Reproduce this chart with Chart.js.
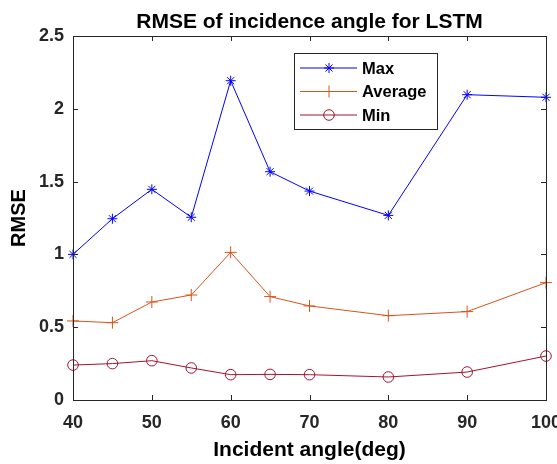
<!DOCTYPE html>
<html lang="en">
<head>
<meta charset="UTF-8">
<title>RMSE of incidence angle for LSTM</title>
<script src="https://cdn.jsdelivr.net/npm/chart.js"></script>
<style>
    html, body { margin: 0; padding: 0; background: #fff; }
    #wrap { width: 557px; height: 464px; }
</style>
</head>
<body>
<div id="wrap"><canvas id="rmseChart"></canvas></div>
<script>
// data
const angles = [40, 45, 50, 55, 60, 65, 70, 80, 90, 100];
const maxRmse = [1.00, 1.245, 1.447, 1.255, 2.193, 1.568, 1.435, 1.268, 2.097, 2.079];
const avgRmse = [0.543, 0.531, 0.673, 0.721, 1.014, 0.710, 0.646, 0.579, 0.607, 0.806];
const minRmse = [0.240, 0.250, 0.270, 0.220, 0.174, 0.176, 0.174, 0.158, 0.192, 0.302];
const xTicks = { min: 40, max: 100, step: 10 };
const yTicks = { min: 0, max: 2.5, step: 0.5 };
const chartTitle = 'RMSE of incidence angle for LSTM';

const axisColor = '#262626';
const fontFamily = "'Liberation Sans', Arial, sans-serif";
Chart.defaults.font.family = fontFamily;

function toPoints(ys) {
    return angles.map((a, i) => ({ x: a, y: ys[i] }));
}

// simple marker drawing for the legend box
function drawMarker(ctx, style, x, y, r) {
    ctx.beginPath();
    if (style === 'circle') {
        ctx.arc(x, y, r, 0, Math.PI * 2);
    } else {
        ctx.moveTo(x - r, y); ctx.lineTo(x + r, y);
        ctx.moveTo(x, y - r); ctx.lineTo(x, y + r);
        if (style === 'star') {
            const d = r * Math.SQRT1_2;
            ctx.moveTo(x - d, y - d); ctx.lineTo(x + d, y + d);
            ctx.moveTo(x - d, y + d); ctx.lineTo(x + d, y - d);
        }
    }
    ctx.stroke();
}

// matlab style box with inward ticks, title centred over the axes
const boxPlugin = {
    id: 'matlabBox',
    afterDraw(chart) {
        const { ctx, chartArea: a, scales } = chart;
        const tl = 5;
        ctx.save();
        ctx.strokeStyle = axisColor;
        ctx.lineWidth = 1;
        ctx.beginPath();
        scales.x.ticks.forEach(t => {
            const px = Math.round(scales.x.getPixelForValue(t.value)) + 0.5;
            ctx.moveTo(px, a.bottom); ctx.lineTo(px, a.bottom - tl);
            ctx.moveTo(px, a.top); ctx.lineTo(px, a.top + tl);
        });
        scales.y.ticks.forEach(t => {
            const py = Math.round(scales.y.getPixelForValue(t.value)) + 0.5;
            ctx.moveTo(a.left, py); ctx.lineTo(a.left + tl, py);
            ctx.moveTo(a.right, py); ctx.lineTo(a.right - tl, py);
        });
        ctx.stroke();
        ctx.strokeRect(Math.round(a.left) + 0.5, Math.round(a.top) + 0.5,
            Math.round(a.right - a.left), Math.round(a.bottom - a.top));

        ctx.fillStyle = '#000';
        ctx.font = 'bold 21px ' + fontFamily;
        ctx.textAlign = 'center';
        ctx.textBaseline = 'alphabetic';
        ctx.fillText(chartTitle, (a.left + a.right) / 2, 28);
        ctx.restore();
    }
};

const legendPlugin = {
    id: 'boxLegend',
    afterDraw(chart) {
        const ctx = chart.ctx;
        const x0 = 294, y0 = 53, w = 143, h = 76;
        ctx.save();
        ctx.fillStyle = '#fff';
        ctx.fillRect(x0, y0, w, h);
        ctx.strokeStyle = axisColor;
        ctx.lineWidth = 1;
        ctx.strokeRect(x0 + 0.5, y0 + 0.5, w, h);
        chart.data.datasets.forEach((ds, i) => {
            const y = y0 + 15 + i * 23.5;
            ctx.strokeStyle = ds.borderColor;
            ctx.lineWidth = 1;
            ctx.beginPath();
            ctx.moveTo(x0 + 6, y); ctx.lineTo(x0 + 63, y);
            ctx.stroke();
            drawMarker(ctx, ds.pointStyle, x0 + 35, y, ds.pointRadius);
            ctx.fillStyle = '#000';
            ctx.font = 'bold 16.5px ' + fontFamily;
            ctx.textBaseline = 'middle';
            ctx.fillText(ds.label, x0 + 68, y + 1);
        });
        ctx.restore();
    }
};

const tickFont = { size: 18, weight: 'bold' };

new Chart(document.getElementById('rmseChart'), {
    type: 'line',
    data: {
        datasets: [{
            label: 'Max',
            data: toPoints(maxRmse),
            borderColor: '#0000FF',
            backgroundColor: '#0000FF',
            pointStyle: 'star',
            pointRadius: 5
        }, {
            label: 'Average',
            data: toPoints(avgRmse),
            borderColor: '#D95319',
            backgroundColor: '#D95319',
            pointStyle: 'cross',
            pointRadius: 6
        }, {
            label: 'Min',
            data: toPoints(minRmse),
            borderColor: '#A2142F',
            backgroundColor: 'rgba(0,0,0,0)',
            pointStyle: 'circle',
            pointRadius: 5.3
        }]
    },
    options: {
        responsive: true,
        maintainAspectRatio: false,
        animation: false,
        layout: { padding: { left: 0, right: 11, top: 36, bottom: 0 } },
        elements: {
            line: { borderWidth: 1, tension: 0 },
            point: { borderWidth: 1, hoverRadius: 5 }
        },
        datasets: { line: { clip: false } },
        plugins: {
            legend: { display: false },
            tooltip: { enabled: false },
            title: { display: false }
        },
        scales: {
            x: {
                type: 'linear',
                min: xTicks.min,
                max: xTicks.max,
                ticks: { stepSize: xTicks.step, padding: 12, color: axisColor, font: tickFont, maxRotation: 0 },
                grid: { display: false, drawTicks: false },
                border: { display: false },
                title: { display: true, text: 'Incident angle(deg)', color: '#000', font: { size: 21, weight: 'bold' }, padding: { top: 0, bottom: 1 } },
                afterFit(s) { s.height = 64; s.paddingLeft = 0; s.paddingRight = 0; }
            },
            y: {
                min: yTicks.min,
                max: yTicks.max,
                ticks: { stepSize: yTicks.step, padding: 9, color: axisColor, font: tickFont, callback: v => String(v) },
                grid: { display: false, drawTicks: false },
                border: { display: false },
                title: { display: true, text: 'RMSE', color: '#000', font: { size: 20, weight: 'bold' }, padding: { top: 7, bottom: 0 } },
                afterFit(s) { s.width = 73; }
            }
        }
    },
    plugins: [boxPlugin, legendPlugin]
});
</script>
</body>
</html>
